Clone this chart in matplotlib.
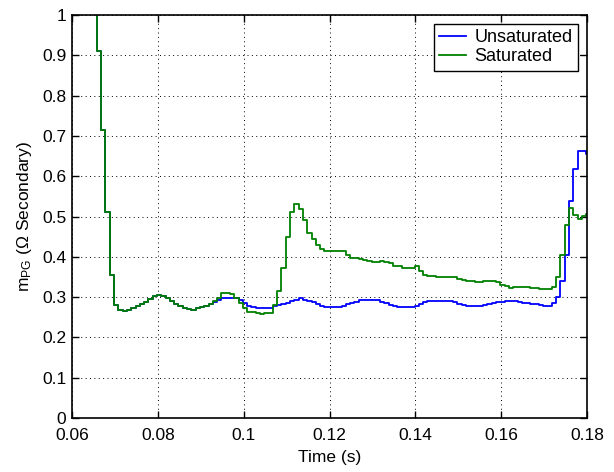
import matplotlib
matplotlib.use("Agg")
import matplotlib.pyplot as plt
import numpy as np
from matplotlib.ticker import FuncFormatter

plt.rcParams["font.family"] = ["Liberation Sans", "DejaVu Sans"]
plt.rcParams["mathtext.fontset"] = "custom"
plt.rcParams["mathtext.rm"] = "Liberation Sans"
plt.rcParams["mathtext.it"] = "Liberation Sans:italic"

# relay element output, sampled every 1 ms
T_START = 0.0648
T_STEP = 0.001

unsaturated = [
    1.30, 0.910, 0.715, 0.510, 0.355, 0.280, 0.268, 0.266, 0.268, 0.272,
    0.277, 0.283, 0.289, 0.296, 0.302, 0.304, 0.303, 0.297, 0.290, 0.283,
    0.278, 0.273, 0.270, 0.268, 0.272, 0.275, 0.279, 0.284, 0.288, 0.293,
    0.298, 0.299, 0.299, 0.297, 0.293, 0.286, 0.279, 0.276, 0.274, 0.274,
    0.274, 0.274, 0.277, 0.280, 0.282, 0.286, 0.290, 0.294, 0.297, 0.294,
    0.291, 0.287, 0.284, 0.279, 0.276, 0.276, 0.276, 0.276, 0.279, 0.283,
    0.286, 0.289, 0.292, 0.294, 0.294, 0.294, 0.292, 0.289, 0.285, 0.281,
    0.278, 0.276, 0.275, 0.275, 0.276, 0.279, 0.283, 0.287, 0.290, 0.291,
    0.291, 0.291, 0.291, 0.290, 0.289, 0.284, 0.280, 0.278, 0.278, 0.278,
    0.279, 0.280, 0.283, 0.286, 0.287, 0.289, 0.290, 0.290, 0.290, 0.288,
    0.286, 0.285, 0.284, 0.282, 0.281, 0.279, 0.279, 0.285, 0.301, 0.340,
    0.404, 0.539, 0.617, 0.663, 0.663, 0.655, 0.655,
]

saturated = [
    1.30, 0.910, 0.715, 0.510, 0.355, 0.280, 0.268, 0.266, 0.268, 0.272,
    0.277, 0.283, 0.289, 0.296, 0.302, 0.304, 0.303, 0.297, 0.290, 0.283,
    0.278, 0.273, 0.270, 0.268, 0.272, 0.275, 0.279, 0.284, 0.290, 0.297,
    0.309, 0.310, 0.308, 0.297, 0.285, 0.272, 0.264, 0.262, 0.261, 0.257,
    0.261, 0.260, 0.280, 0.316, 0.371, 0.448, 0.510, 0.531, 0.519, 0.491,
    0.460, 0.443, 0.429, 0.419, 0.414, 0.414, 0.414, 0.414, 0.414, 0.404,
    0.398, 0.398, 0.395, 0.392, 0.390, 0.388, 0.388, 0.390, 0.386, 0.384,
    0.378, 0.376, 0.373, 0.372, 0.372, 0.376, 0.365, 0.355, 0.352, 0.352,
    0.350, 0.349, 0.349, 0.349, 0.349, 0.344, 0.342, 0.339, 0.339, 0.338,
    0.338, 0.341, 0.341, 0.341, 0.338, 0.330, 0.328, 0.323, 0.325, 0.326,
    0.326, 0.324, 0.322, 0.322, 0.320, 0.319, 0.319, 0.326, 0.349, 0.404,
    0.479, 0.520, 0.504, 0.493, 0.501, 0.505, 0.505,
]

t = T_START + T_STEP * np.arange(len(unsaturated))

fig = plt.figure(figsize=(6.14, 4.72), dpi=100)
ax = fig.add_axes([0.1173, 0.1144, 0.8388, 0.8538])

ax.plot(t, unsaturated, drawstyle="steps-post", color=(0, 0, 1), lw=1.3, label="Unsaturated")
ax.plot(t, saturated, drawstyle="steps-post", color=(0, 0.5, 0), lw=1.3, label="Saturated")

ax.set_xlim(0.06, 0.18)
ax.set_ylim(0, 1)
ax.set_xticks(np.arange(0.06, 0.1801, 0.02))
ax.set_yticks(np.arange(0, 1.001, 0.1))
ax.xaxis.set_major_formatter(FuncFormatter(lambda v, p: f"{v:.2f}".rstrip("0").rstrip(".")))
ax.yaxis.set_major_formatter(FuncFormatter(lambda v, p: f"{v:.1f}".rstrip("0").rstrip(".")))

ax.grid(True, color="black", linestyle=(0, (1, 3.5)), linewidth=0.7)
ax.tick_params(direction="in", top=True, right=True, length=5, width=1, labelsize=12.5)
ax.tick_params(axis="x", pad=7)
ax.tick_params(axis="y", pad=4)
for s in ax.spines.values():
    s.set_linewidth(1.2)

ax.set_xlabel("Time (s)", fontsize=12.5, labelpad=5)
ax.set_ylabel(r"m$_{\mathrm{PG}}$ ($\Omega$ Secondary)", fontsize=12.5, labelpad=6)

leg = ax.legend(loc="upper right", fontsize=13, fancybox=False, framealpha=1,
                edgecolor="black", handlelength=1.5, handletextpad=0.45,
                borderpad=0.3, labelspacing=0.1, borderaxespad=0.5)
leg.get_frame().set_linewidth(1.0)

fig.savefig("out.png", dpi=100)
